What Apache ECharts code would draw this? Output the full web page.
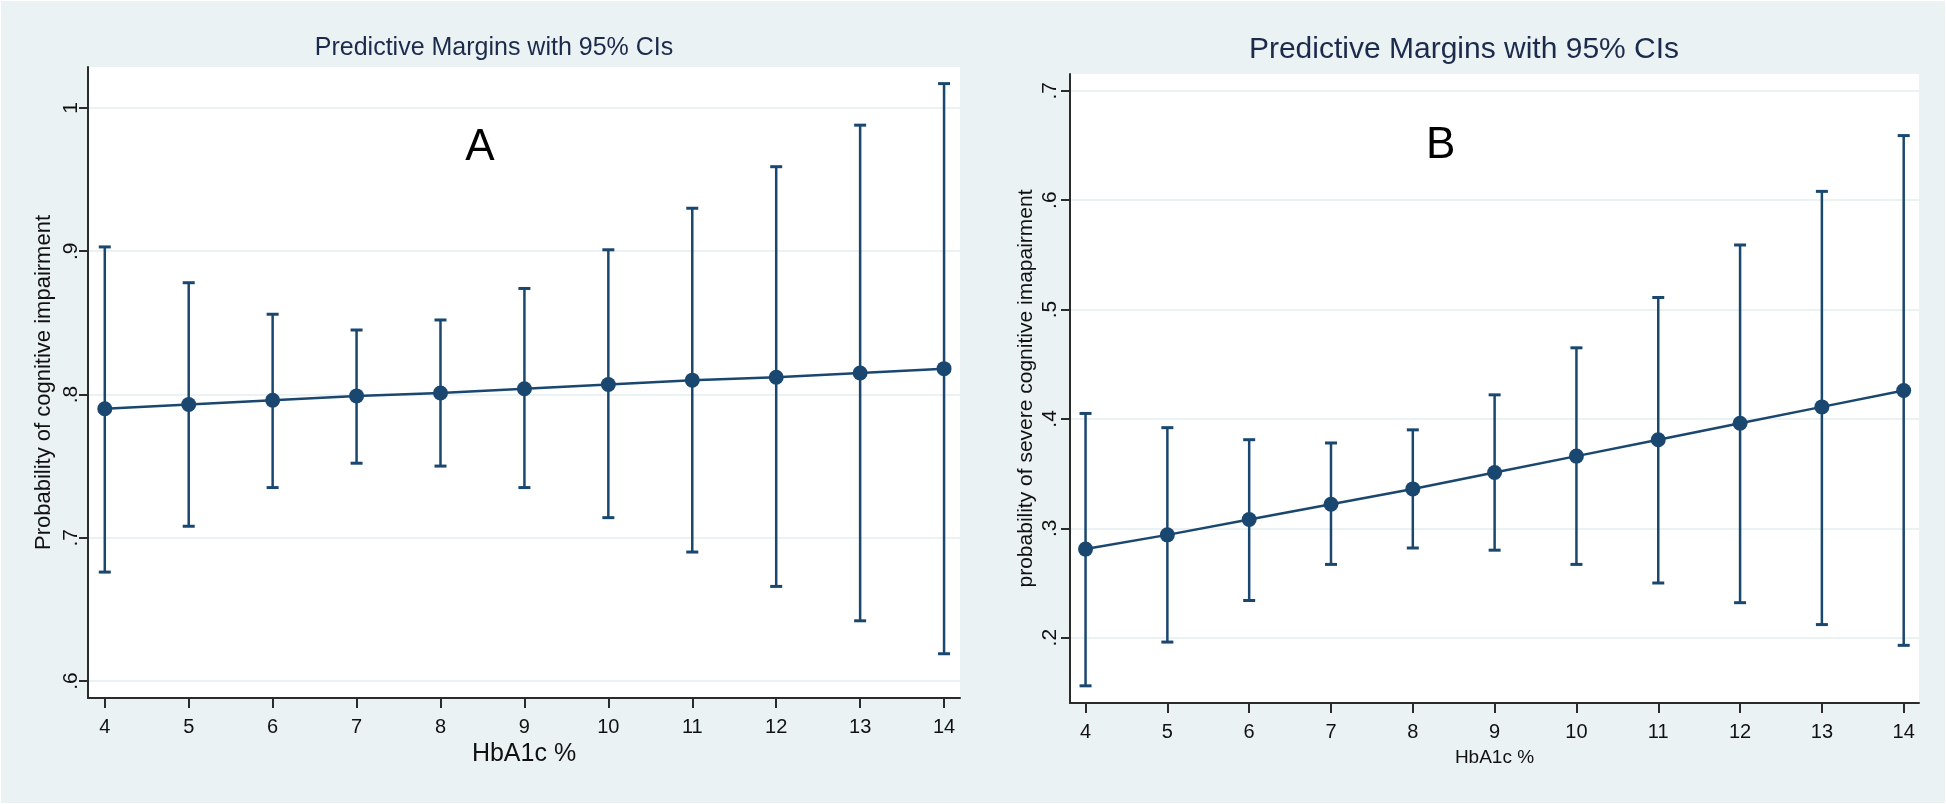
<!DOCTYPE html>
<html><head><meta charset="utf-8">
<script src="https://cdn.jsdelivr.net/npm/echarts@6/dist/echarts.min.js"></script>
<style>html,body{margin:0;padding:0;background:#fff}#c{width:1946px;height:804px}</style>
</head><body><div id="c"></div>
<script>
// ---------- data ----------
const hba1c = [4, 5, 6, 7, 8, 9, 10, 11, 12, 13, 14];

// Panel A: probability of cognitive impairment
const meanA = [0.790, 0.793, 0.796, 0.799, 0.801, 0.804, 0.807, 0.810, 0.812, 0.815, 0.818];
const lowA  = [0.676, 0.708, 0.735, 0.752, 0.750, 0.735, 0.714, 0.690, 0.666, 0.642, 0.619];
const highA = [0.903, 0.878, 0.856, 0.845, 0.852, 0.874, 0.901, 0.930, 0.959, 0.988, 1.017];

// Panel B: probability of severe cognitive impairment
const meanB = [0.281, 0.294, 0.308, 0.322, 0.336, 0.351, 0.366, 0.381, 0.396, 0.411, 0.426];
const lowB  = [0.156, 0.196, 0.234, 0.267, 0.282, 0.280, 0.267, 0.250, 0.232, 0.212, 0.193];
const highB = [0.405, 0.392, 0.381, 0.378, 0.390, 0.422, 0.465, 0.511, 0.559, 0.608, 0.659];

// ticks / labels
const xTicks = [4, 5, 6, 7, 8, 9, 10, 11, 12, 13, 14];
const yTicksA = [0.6, 0.7, 0.8, 0.9, 1.0];
const yLabelsA = ['.6', '.7', '.8', '.9', '1'];
const yTicksB = [0.2, 0.3, 0.4, 0.5, 0.6, 0.7];
const yLabelsB = ['.2', '.3', '.4', '.5', '.6', '.7'];

const titleText = 'Predictive Margins with 95% CIs';
const xTitle = 'HbA1c %';
const yTitleA = 'Probability of cognitive impairment';
const yTitleB = 'probability of severe cognitive imapairment';
const panelA = 'A', panelB = 'B';

// ---------- style ----------
const BG = '#eaf2f3';
const NAVY = '#1a476f';
const AXIS = '#2b2b2b';
const FONT = "'Liberation Sans',Arial,sans-serif";

function lab(v, ticks, labels) {
  for (let i = 0; i < ticks.length; i++) if (Math.abs(v - ticks[i]) < 1e-6) return labels[i];
  return '';
}

function errBars(lo, hi) {
  return hba1c.map((x, i) => [x, lo[i], hi[i]]);
}
function renderErr(params, api) {
  const x = api.value(0);
  const pLo = api.coord([x, api.value(1)]);
  const pHi = api.coord([x, api.value(2)]);
  const hw = 6;
  const st = { stroke: NAVY, lineWidth: 2.5 };
  const cap = { stroke: NAVY, lineWidth: 3 };
  return { type: 'group', children: [
    { type: 'line', shape: { x1: pHi[0], y1: pHi[1], x2: pLo[0], y2: pLo[1] }, style: st },
    { type: 'line', shape: { x1: pHi[0] - hw, y1: pHi[1], x2: pHi[0] + hw, y2: pHi[1] }, style: cap },
    { type: 'line', shape: { x1: pLo[0] - hw, y1: pLo[1], x2: pLo[0] + hw, y2: pLo[1] }, style: cap }
  ]};
}

function xAxisCfg(gi, min, max, nameSize, gap) {
  return {
    gridIndex: gi, type: 'value', min: min, max: max,
    axisLine: { show: true, onZero: false, lineStyle: { color: AXIS, width: 2 } },
    axisTick: { show: true, length: 10, customValues: xTicks, lineStyle: { color: AXIS, width: 2 } },
    axisLabel: { customValues: xTicks, fontFamily: FONT, fontSize: 20, color: '#111', margin: 19 },
    splitLine: { show: false },
    name: xTitle, nameLocation: 'middle', nameGap: gap,
    nameTextStyle: { fontFamily: FONT, fontSize: nameSize, color: '#111' }
  };
}
function yAxisCfg(gi, min, max, ticks, labels, name, nameSize, gap, margin) {
  return {
    gridIndex: gi, type: 'value', min: min, max: max,
    axisLine: { show: true, onZero: false, lineStyle: { color: AXIS, width: 2 } },
    axisTick: { show: true, length: 9, customValues: ticks, lineStyle: { color: AXIS, width: 2 } },
    axisLabel: { customValues: ticks, rotate: 90, fontFamily: FONT, fontSize: 21, color: '#111', margin: margin,
                 formatter: v => lab(v, ticks, labels) },
    splitLine: { show: true, lineStyle: { color: BG, width: 2 } },
    name: name, nameLocation: 'middle', nameRotate: 90, nameGap: gap,
    nameTextStyle: { fontFamily: FONT, fontSize: nameSize, color: '#111' }
  };
}

const chart = echarts.init(document.getElementById('c'), null, { renderer: 'canvas' });
chart.setOption({
  backgroundColor: BG,
  animation: false,
  grid: [
    { left: 88, top: 67, width: 872, height: 631, show: true, backgroundColor: '#fff', borderWidth: 0 },
    { left: 1070, top: 74, width: 849, height: 629, show: true, backgroundColor: '#fff', borderWidth: 0 }
  ],
  xAxis: [ xAxisCfg(0, 3.8, 14.19, 25, 44), xAxisCfg(1, 3.81, 14.187, 19, 45) ],
  yAxis: [
    yAxisCfg(0, 0.5881, 1.0286, yTicksA, yLabelsA, yTitleA, 22, 33, 6),
    yAxisCfg(1, 0.1403, 0.7153, yTicksB, yLabelsB, yTitleB, 21, 33, 9)
  ],
  series: [
    { type: 'custom', xAxisIndex: 0, yAxisIndex: 0, data: errBars(lowA, highA), renderItem: renderErr, z: 2 },
    { type: 'line', xAxisIndex: 0, yAxisIndex: 0, data: hba1c.map((x, i) => [x, meanA[i]]),
      symbol: 'circle', symbolSize: 15, lineStyle: { color: NAVY, width: 2.5 }, itemStyle: { color: NAVY }, z: 3 },
    { type: 'custom', xAxisIndex: 1, yAxisIndex: 1, data: errBars(lowB, highB), renderItem: renderErr, z: 2 },
    { type: 'line', xAxisIndex: 1, yAxisIndex: 1, data: hba1c.map((x, i) => [x, meanB[i]]),
      symbol: 'circle', symbolSize: 15, lineStyle: { color: NAVY, width: 2.5 }, itemStyle: { color: NAVY }, z: 3 }
  ]
});

// panel letters placed in data coordinates
const pA = chart.convertToPixel({ gridIndex: 0 }, [8.47, 0.972]);
const pB = chart.convertToPixel({ gridIndex: 1 }, [8.34, 0.650]);
chart.setOption({ graphic: [
  { id: 'border', type: 'rect', shape: { x: 0, y: 0, width: 1946, height: 804 }, style: { fill: 'none', stroke: '#fff', lineWidth: 2 }, silent: true, z: 100 },
  { id: 'tA', type: 'text', x: 494, y: 48, style: { text: titleText, fontFamily: FONT, fontSize: 25, fill: '#1c2a4c', textAlign: 'center', textVerticalAlign: 'middle' } },
  { id: 'tB', type: 'text', x: 1464, y: 50, style: { text: titleText, fontFamily: FONT, fontSize: 30, fill: '#1c2a4c', textAlign: 'center', textVerticalAlign: 'middle' } },
  { id: 'lA', type: 'text', x: pA[0], y: pA[1], style: { text: panelA, fontFamily: FONT, fontSize: 44, fill: '#000', textAlign: 'center', textVerticalAlign: 'middle' } },
  { id: 'lB', type: 'text', x: pB[0], y: pB[1], style: { text: panelB, fontFamily: FONT, fontSize: 44, fill: '#000', textAlign: 'center', textVerticalAlign: 'middle' } }
]});
</script></body></html>
